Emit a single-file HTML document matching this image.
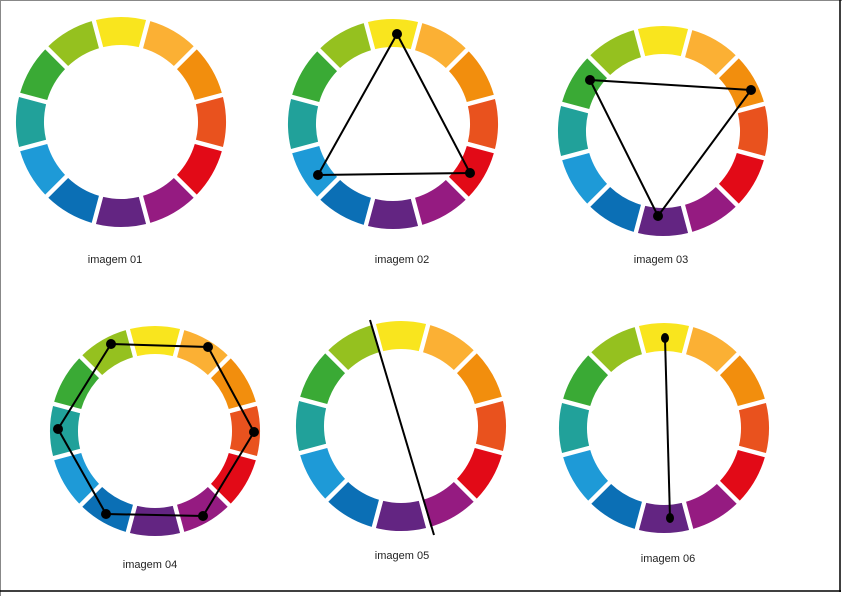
<!DOCTYPE html>
<html><head><meta charset="utf-8"><style>
html,body{margin:0;padding:0;background:#fff;}
svg{display:block;}
text{font-family:"Liberation Sans",sans-serif;font-size:11px;fill:#222;}
</style></head><body>
<svg id="s" width="842" height="596" viewBox="0 0 842 596">
<line x1="0.5" y1="0" x2="0.5" y2="596" stroke="#888"/>
<line x1="0" y1="0.5" x2="842" y2="0.5" stroke="#888"/>
<line x1="840" y1="0" x2="840" y2="592" stroke="#000" stroke-width="1.5"/>
<line x1="0" y1="591" x2="841" y2="591" stroke="#000" stroke-width="1.5"/>
</svg>
<script>
const colors=["#f9e51e","#fbb034","#f28e0d","#e9521e","#e20a17","#951b81","#632582","#0b6fb5","#1e9ad7","#21a19a","#3aaa35","#95c11f"];
const centers=[[121,122],[393,124],[663,131],[155,431],[401,426],[664,428]];
const labels=["imagem 01","imagem 02","imagem 03","imagem 04","imagem 05","imagem 06"];
const labelPos=[[115,263],[402,263],[661,263],[150,568],[402,559],[668,562]];
const polys=[[],[[397,34],[470,173],[318,175]],[[590,80],[751,90],[658,216]],[[111,344],[208,347],[254,432],[203,516],[106,514],[58,429]],[],[[665,338],[670,518]]];
const s=document.getElementById('s');
const NS="http://www.w3.org/2000/svg";
const R=105,r=77,gap=2.2;
function P(cx,cy,rad,a){return [cx+rad*Math.sin(a),cy-rad*Math.cos(a)];}
centers.forEach((c,w)=>{
  const g=document.createElementNS(NS,'g');
  
  
  colors.forEach((col,i)=>{
    const a0=(i*30-15)*Math.PI/180,a1=(i*30+15)*Math.PI/180;
    const go=gap/R,gi=gap/r;
    const p1=P(c[0],c[1],R,a0+go),p2=P(c[0],c[1],R,a1-go),p3=P(c[0],c[1],r,a1-gi),p4=P(c[0],c[1],r,a0+gi);
    const p=document.createElementNS(NS,'path');
    p.setAttribute('d',`M${p1}A${R},${R} 0 0 1 ${p2}L${p3}A${r},${r} 0 0 0 ${p4}Z`);
    p.setAttribute('fill',col);
    
    
    g.appendChild(p);
  });
  s.appendChild(g);
  const pts=polys[w];
  if(pts.length>1){
    const pl=document.createElementNS(NS,pts.length>2?'polygon':'polyline');
    pl.setAttribute('points',pts.map(q=>q.join(',')).join(' '));
    pl.setAttribute('fill','none');pl.setAttribute('stroke','#000');pl.setAttribute('stroke-width','2');
    
    
    s.appendChild(pl);
    pts.forEach(q=>{
      const e=document.createElementNS(NS,'ellipse');
      e.setAttribute('cx',q[0]);e.setAttribute('cy',q[1]);
      e.setAttribute('rx',w==5?4:5);e.setAttribute('ry',5);
      e.setAttribute('fill','#000');
      
      
      s.appendChild(e);
    });
  }
  const t=document.createElementNS(NS,'text');
  t.setAttribute('x',labelPos[w][0]);t.setAttribute('y',labelPos[w][1]);
  t.setAttribute('text-anchor','middle');
  t.textContent=labels[w];
  
  
  s.appendChild(t);
});
const ln=document.createElementNS(NS,'line');
ln.setAttribute('x1',370);ln.setAttribute('y1',320);ln.setAttribute('x2',434);ln.setAttribute('y2',535);
ln.setAttribute('stroke','#000');ln.setAttribute('stroke-width','2');


s.appendChild(ln);
</script>
</body></html>
